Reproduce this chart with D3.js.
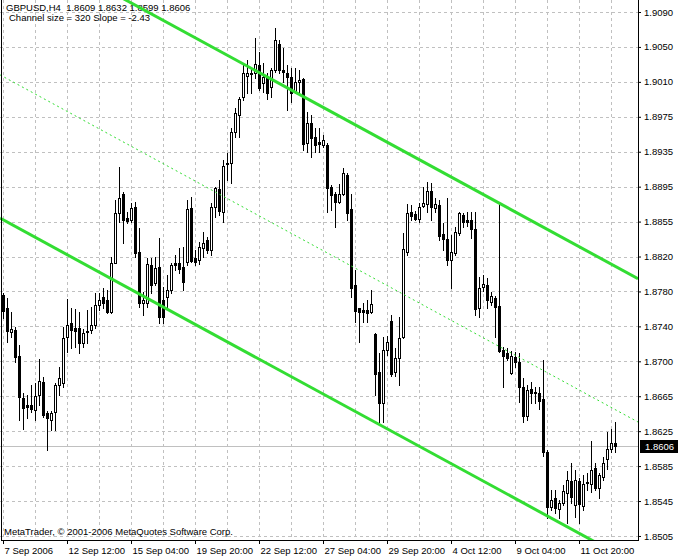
<!DOCTYPE html>
<html><head><meta charset="utf-8">
<script src="https://cdn.jsdelivr.net/npm/d3@7"></script>
<style>
body{margin:0;background:#fff}
svg{display:block}
text{font-family:"Liberation Sans",Arial,sans-serif;font-size:9.5px;fill:#000;white-space:pre}
</style>
</head><body>
<svg id="c" width="680" height="560"></svg>
<script>
const symbolTitle = "GBPUSD,H4  1.8609 1.8632 1.8599 1.8606";
const channelInfo = "Channel size = 320 Slope = -2.43";
const copyright = "MetaTrader, \u00a9 2001-2006 MetaQuotes Software Corp.";

const opens = [1.8774,1.8759,1.8733,1.8735,1.8706,1.8659,1.8651,1.8651,1.8646,1.8662,
1.8677,1.8642,1.8634,1.8643,1.8674,1.8676,1.8727,1.8743,1.8737,1.8737,
1.8721,1.8733,1.8735,1.8741,1.8763,1.8772,1.8768,1.8755,1.8810,1.8866,
1.8887,1.8860,1.8858,1.8872,1.8822,1.8765,1.8765,1.8808,1.8787,1.8805,
1.8768,1.8772,1.8780,1.8810,1.8810,1.8805,1.8811,1.8871,1.8815,1.8813,
1.8827,1.8835,1.8824,1.8872,1.8892,1.8867,1.8920,1.8921,1.8956,1.8975,
1.8995,1.9019,1.9021,1.9022,1.9031,1.9011,1.9017,1.9006,1.9025,1.9054,
1.9025,1.9022,1.9017,1.9002,1.9012,1.9015,1.8944,1.8966,1.8950,1.8945,
1.8942,1.8942,1.8895,1.8887,1.8878,1.8887,1.8908,1.8870,1.8785,1.8759,
1.8757,1.8757,1.8755,1.8731,1.8688,1.8653,1.8713,1.8745,1.8688,1.8704,
1.8727,1.8822,1.8867,1.8864,1.8859,1.8873,1.8876,1.8890,1.8871,1.8875,
1.8842,1.8837,1.8813,1.8821,1.8843,1.8863,1.8858,1.8858,1.8848,1.8759,
1.8783,1.8785,1.8766,1.8771,1.8762,1.8713,1.8709,1.8687,1.8705,1.8699,
1.8671,1.8639,1.8669,1.8666,1.8665,1.8658,1.8599,1.8537,1.8547,1.8535,
1.8542,1.8553,1.8566,1.8540,1.8566,1.8539,1.8565,1.8563,1.8581,1.8558,
1.8571,1.8591,1.8602,1.8609];
const highs = [1.8776,1.8771,1.8755,1.8738,1.8718,1.8665,1.8662,1.8674,1.8676,1.8703,
1.8682,1.8645,1.8645,1.8676,1.8694,1.8738,1.8770,1.8759,1.8758,1.8755,
1.8736,1.8757,1.8761,1.8776,1.8776,1.8782,1.8780,1.8816,1.8880,1.8917,
1.8889,1.8867,1.8877,1.8878,1.8849,1.8777,1.8815,1.8815,1.8816,1.8838,
1.8783,1.8796,1.8810,1.8819,1.8827,1.8828,1.8880,1.8883,1.8824,1.8833,
1.8844,1.8839,1.8877,1.8895,1.8902,1.8925,1.8933,1.8960,1.8983,1.8995,
1.9031,1.9036,1.9029,1.9061,1.9045,1.9033,1.9022,1.9027,1.9072,1.9059,
1.9050,1.9031,1.9027,1.9027,1.9025,1.9016,1.8978,1.8975,1.8960,1.8960,
1.8953,1.8944,1.8897,1.8889,1.8898,1.8916,1.8910,1.8887,1.8802,1.8760,
1.8765,1.8768,1.8780,1.8732,1.8709,1.8727,1.8728,1.8752,1.8715,1.8749,
1.8843,1.8876,1.8875,1.8868,1.8877,1.8895,1.8900,1.8899,1.8882,1.8880,
1.8854,1.8882,1.8841,1.8850,1.8867,1.8866,1.8867,1.8867,1.8867,1.8794,
1.8796,1.8793,1.8777,1.8773,1.8876,1.8716,1.8715,1.8712,1.8710,1.8709,
1.8681,1.8674,1.8677,1.8671,1.8671,1.8701,1.8601,1.8556,1.8556,1.8545,
1.8562,1.8577,1.8586,1.8579,1.8570,1.8573,1.8575,1.8611,1.8586,1.8575,
1.8593,1.8621,1.8624,1.8632];
const lows = [1.8748,1.8722,1.8727,1.8699,1.8634,1.8624,1.8637,1.8643,1.8634,1.8651,
1.8638,1.8601,1.8623,1.8623,1.8662,1.8671,1.8710,1.8715,1.8716,1.8709,
1.8716,1.8721,1.8732,1.8737,1.8757,1.8759,1.8754,1.8754,1.8810,1.8856,
1.8832,1.8854,1.8856,1.8816,1.8761,1.8752,1.8761,1.8776,1.8785,1.8743,
1.8743,1.8761,1.8776,1.8802,1.8799,1.8780,1.8808,1.8811,1.8808,1.8809,
1.8816,1.8821,1.8819,1.8861,1.8863,1.8856,1.8902,1.8899,1.8950,1.8950,
1.8992,1.9000,1.9000,1.9016,1.9003,1.9001,1.8993,1.8995,1.9023,1.9022,
1.9012,1.8981,1.8990,1.9000,1.9001,1.8936,1.8934,1.8928,1.8934,1.8934,
1.8939,1.8867,1.8869,1.8850,1.8877,1.8886,1.8858,1.8772,1.8744,1.8722,
1.8744,1.8744,1.8754,1.8662,1.8632,1.8632,1.8707,1.8684,1.8684,1.8674,
1.8726,1.8819,1.8858,1.8858,1.8856,1.8872,1.8867,1.8858,1.8867,1.8835,
1.8824,1.8808,1.8782,1.8819,1.8841,1.8850,1.8851,1.8838,1.8752,1.8749,
1.8778,1.8759,1.8763,1.8727,1.8710,1.8671,1.8701,1.8686,1.8694,1.8655,
1.8632,1.8634,1.8653,1.8653,1.8647,1.8594,1.8525,1.8534,1.8531,1.8525,
1.8540,1.8520,1.8542,1.8526,1.8520,1.8534,1.8556,1.8554,1.8556,1.8547,
1.8568,1.8580,1.8599,1.8599];
const closes = [1.8756,1.8734,1.8736,1.8705,1.8660,1.8648,1.8649,1.8647,1.8661,1.8678,
1.8640,1.8637,1.8642,1.8674,1.8681,1.8726,1.8741,1.8735,1.8734,1.8721,
1.8732,1.8734,1.8741,1.8763,1.8768,1.8765,1.8755,1.8810,1.8866,1.8882,
1.8858,1.8857,1.8871,1.8821,1.8765,1.8768,1.8809,1.8785,1.8804,1.8749,
1.8749,1.8780,1.8808,1.8808,1.8803,1.8789,1.8870,1.8812,1.8811,1.8828,
1.8832,1.8824,1.8872,1.8894,1.8868,1.8918,1.8921,1.8956,1.8977,1.8993,
1.9022,1.9022,1.9022,1.9032,1.9005,1.9017,1.9000,1.9025,1.9059,1.9025,
1.9023,1.9017,1.9000,1.9012,1.9014,1.8943,1.8966,1.8949,1.8942,1.8943,
1.8947,1.8894,1.8886,1.8878,1.8887,1.8910,1.8866,1.8782,1.8756,1.8755,
1.8755,1.8754,1.8764,1.8686,1.8653,1.8713,1.8722,1.8686,1.8704,1.8726,
1.8825,1.8866,1.8862,1.8859,1.8872,1.8877,1.8890,1.8872,1.8876,1.8840,
1.8837,1.8813,1.8822,1.8844,1.8866,1.8856,1.8856,1.8848,1.8758,1.8782,
1.8786,1.8768,1.8773,1.8761,1.8712,1.8706,1.8704,1.8706,1.8699,1.8671,
1.8639,1.8668,1.8665,1.8665,1.8656,1.8599,1.8537,1.8545,1.8536,1.8542,
1.8555,1.8568,1.8549,1.8568,1.8541,1.8563,1.8564,1.8579,1.8559,1.8573,
1.8586,1.8602,1.8609,1.8606];

const priceTickLabels = ["1.9090","1.9050","1.9010","1.8975","1.8935","1.8895","1.8855","1.8820",
"1.8780","1.8740","1.8700","1.8665","1.8625","1.8585","1.8545","1.8505"];
const priceGridTop = 1.9090, priceGridStep = 0.0039;
const timeTickBars = [0,16,32,48,64,80,96,112,128,144];
const timeTickLabels = ["7 Sep 2006","12 Sep 12:00","15 Sep 04:00","19 Sep 20:00","22 Sep 12:00",
"27 Sep 04:00","29 Sep 20:00","4 Oct 12:00","9 Oct 04:00","11 Oct 20:00"];
const gridEveryBars = 8;
const channelUpperAtBar0 = 1.9178, channelSlope = -0.000243, channelSize = 0.0320;
const lastPrice = 1.8606;

const W = 680, H = 560, plotR = 638, plotB = 540;
const svg = d3.select("#c");
const x = d3.scaleLinear().domain([0, 159]).range([3, 639]);
const y = d3.scaleLinear().domain([1.85005, 1.91034]).range([540, 0]);
const grey = "#c0c0c0", green = "#33dd33";

svg.append("rect").attr("width", W).attr("height", H).attr("fill", "#fff");
svg.append("defs").append("clipPath").attr("id", "plot")
  .append("rect").attr("x", 0).attr("y", 0).attr("width", plotR).attr("height", plotB);

const gridTicks = priceTickLabels.map((d, i) => priceGridTop - i * priceGridStep);
const grid = svg.append("g").attr("stroke", grey).attr("stroke-dasharray", "3,3").attr("shape-rendering", "crispEdges");
grid.selectAll("line.h").data(gridTicks).join("line").attr("class", "h")
  .attr("x1", 0).attr("x2", plotR).attr("y1", d => Math.round(y(d)) + 0.5).attr("y2", d => Math.round(y(d)) + 0.5);
grid.selectAll("line.v").data(d3.range(0, 154, gridEveryBars)).join("line").attr("class", "v")
  .attr("y1", 0).attr("y2", plotB).attr("x1", d => Math.round(x(d)) + 0.5).attr("x2", d => Math.round(x(d)) + 0.5);

// current price line
svg.append("line").attr("x1", 0).attr("x2", plotR)
  .attr("y1", Math.round(y(lastPrice)) + 0.5).attr("y2", Math.round(y(lastPrice)) + 0.5)
  .attr("stroke", grey).attr("shape-rendering", "crispEdges");

// header texts
svg.append("text").attr("x", 6).attr("y", 11).attr("xml:space", "preserve").text(symbolTitle);
svg.append("text").attr("x", 9).attr("y", 21).text(channelInfo);
svg.append("text").attr("x", 4).attr("y", 535).text(copyright);

// candles
const bars = d3.range(opens.length).map(i => ({i, o: opens[i], h: highs[i], l: lows[i], c: closes[i]}));
const cg = svg.append("g").attr("shape-rendering", "crispEdges");
bars.forEach(b => {
  const cx = Math.round(x(b.i));
  const yh = Math.round(y(b.h)), yl = Math.round(y(b.l));
  const top = Math.round(y(Math.max(b.o, b.c))), bot = Math.round(y(Math.min(b.o, b.c)));
  cg.append("rect").attr("x", cx).attr("y", yh).attr("width", 1).attr("height", yl - yh + 1).attr("fill", "#000");
  cg.append("rect").attr("x", cx - 1).attr("y", top).attr("width", 3).attr("height", bot - top + 1).attr("fill", "#000");
  if (b.c > b.o && bot - top > 1) {
    cg.append("rect").attr("x", cx).attr("y", top + 1).attr("width", 1).attr("height", bot - top - 1).attr("fill", "#fff");
  }
});

// channel
const chg = svg.append("g").attr("clip-path", "url(#plot)");
const b0 = x.invert(0), b1 = x.invert(plotR);
const chan = off => [[b0, channelUpperAtBar0 + channelSlope * b0 - off], [b1, channelUpperAtBar0 + channelSlope * b1 - off]];
const line = d3.line().x(d => x(d[0])).y(d => y(d[1]));
chg.append("path").attr("d", line(chan(channelSize / 2))).attr("fill", "none")
  .attr("stroke", green).attr("stroke-width", 1).attr("stroke-dasharray", "2,3");
[0, channelSize].forEach(off => {
  chg.append("path").attr("d", line(chan(off))).attr("fill", "none")
    .attr("stroke", green).attr("stroke-width", 3);
});

// frame
svg.append("path").attr("d", `M1.5,0V${plotB + 0.5}H${plotR + 0.5}V0`).attr("fill", "none")
  .attr("stroke", "#000").attr("shape-rendering", "crispEdges");

// axes
const yAxis = d3.axisRight(y).tickValues(gridTicks).tickFormat((d, i) => priceTickLabels[i]).tickSize(3).tickPadding(3);
const ya = svg.append("g").attr("transform", `translate(${plotR},0)`).call(yAxis);
ya.select(".domain").remove();
ya.attr("font-family", null).attr("font-size", null);

const xAxis = d3.axisBottom(x).tickValues(timeTickBars).tickFormat((d, i) => timeTickLabels[i]).tickSize(4).tickPadding(3);
const xa = svg.append("g").attr("transform", `translate(0,${plotB})`).call(xAxis);
xa.select(".domain").remove();
xa.attr("font-family", null).attr("font-size", null);
xa.selectAll("text").attr("text-anchor", "start").attr("dx", 1);

// last price label
const yp = Math.round(y(lastPrice));
svg.append("rect").attr("x", 640).attr("y", yp - 6).attr("width", 38).attr("height", 13).attr("fill", "#000");
svg.append("text").attr("x", 645).attr("y", yp + 3.5).style("fill", "#fff").text(lastPrice.toFixed(4));
</script>
</body></html>
